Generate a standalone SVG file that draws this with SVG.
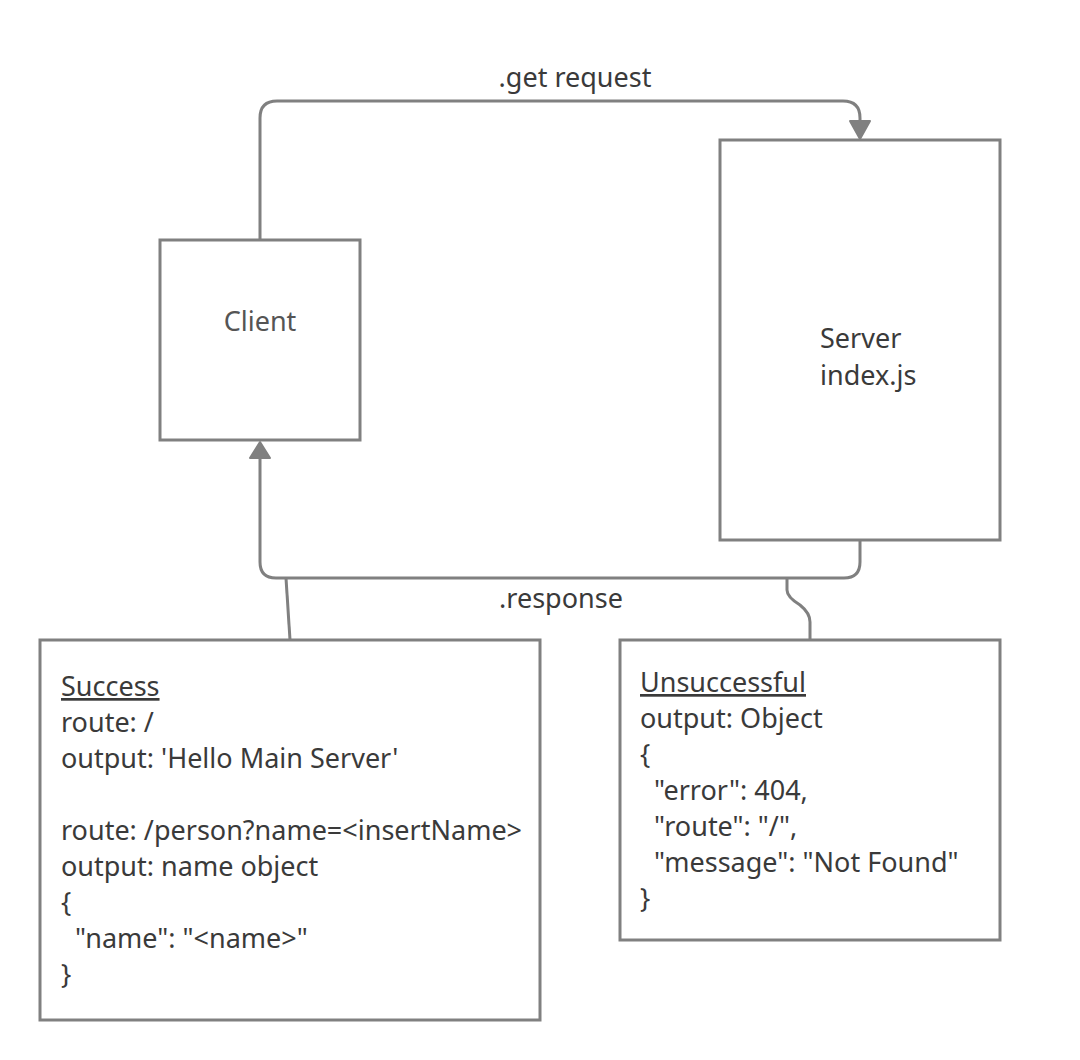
<svg xmlns="http://www.w3.org/2000/svg" width="1080" height="1060" viewBox="0 0 1080 1060">
<style>
.box{fill:#ffffff;stroke:#808080;stroke-width:3}
.con{fill:none;stroke:#808080;stroke-width:3;stroke-linejoin:round}
.head{fill:#808080;stroke:#808080;stroke-width:2;stroke-linejoin:round}
.t{font-family:"Noto Sans","Open Sans",sans-serif;font-size:27px;fill:#3a3a3a}
.lbl{font-family:"Noto Sans","Open Sans",sans-serif;font-size:27px;fill:#3a3a3a;text-anchor:middle}
.u{text-decoration:underline}
</style>
<rect width="1080" height="1060" fill="#ffffff"/>
<g id="connectors">
<path class="con" d="M260,240 L260,118 Q260,101 277,101 L843,101 Q860,101 860,118 L860,124"/>
<path class="head" d="M850,121 L870,121 L860,139 Z"/>
<path class="con" d="M860,540 L860,562 Q860,578 844,578 L276,578 Q260,578 260,562 L260,456"/>
<path class="head" d="M250,458 L270,458 L260,442 Z"/>
<path class="con" d="M290,640 L286,578"/>
<path class="con" d="M810,640 L810,622 Q810,613 800,605 Q787,597 787,590 L787,578"/>
<text class="lbl" x="575" y="87">.get request</text>
<text class="lbl" x="561" y="608">.response</text>
</g>
<g id="client">
<rect class="box" x="160" y="240" width="200" height="200"/>
<text class="lbl" x="260" y="331" style="fill:#555555">Client</text>
</g>
<g id="server">
<rect class="box" x="720" y="140" width="280" height="400"/>
<text class="t" x="820" y="348">Server</text>
<text class="t" x="820" y="385">index.js</text>
</g>
<g id="success">
<rect class="box" x="40" y="640" width="500" height="380"/>
<text class="t u" x="61" y="696">Success</text>
<text class="t" x="61" y="732">route: /</text>
<text class="t" x="61" y="768">output: 'Hello Main Server'</text>
<text class="t" x="61" y="840">route: /person?name=&lt;insertName&gt;</text>
<text class="t" x="61" y="876">output: name object</text>
<text class="t" x="61" y="912">{</text>
<text class="t" x="61" y="948" xml:space="preserve">  "name": "&lt;name&gt;"</text>
<text class="t" x="61" y="984">}</text>
</g>
<g id="unsuccessful">
<rect class="box" x="620" y="640" width="380" height="300"/>
<text class="t u" x="640" y="692">Unsuccessful</text>
<text class="t" x="640" y="728">output: Object</text>
<text class="t" x="640" y="764">{</text>
<text class="t" x="640" y="800" xml:space="preserve">  "error": 404,</text>
<text class="t" x="640" y="836" xml:space="preserve">  "route": "/",</text>
<text class="t" x="640" y="872" xml:space="preserve">  "message": "Not Found"</text>
<text class="t" x="640" y="908">}</text>
</g>
</svg>
